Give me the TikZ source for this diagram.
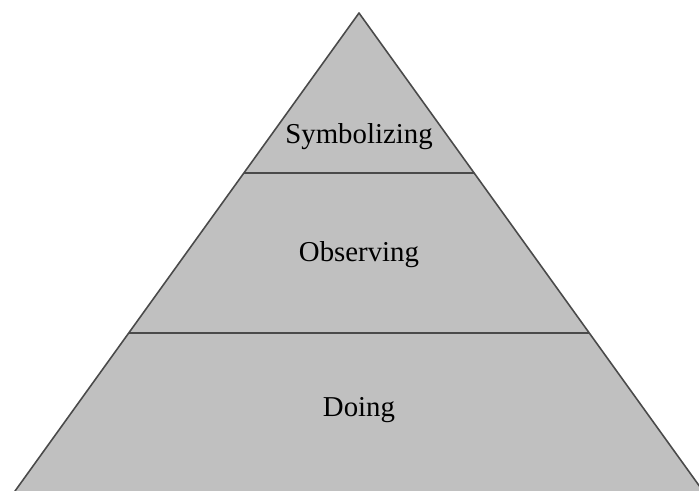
\documentclass[tikz,border=0pt]{standalone}
\usepackage{fontspec}
\setmainfont{Liberation Serif}
\usetikzlibrary{calc}
\definecolor{layergray}{HTML}{C0C0C0}
\definecolor{edgegray}{HTML}{4A4A4A}

\begin{document}
\begin{tikzpicture}[x=0.02cm, y=-0.02cm, font=\fontsize{16.4}{19}\selectfont]
		\tikzstyle{edge}=[draw=edgegray, line width=0.9pt, line join=round]
		\tikzstyle{level}=[align=center, inner sep=0pt]

		\useasboundingbox (0,0) rectangle (699,490);

		\coordinate (top) at (359,13);
		\coordinate (bl) at (13.6,493);
		\coordinate (br) at (704.4,493);

		% pyramid body
		\fill[layergray] (top) -- (bl) -- (br) -- cycle;
		\path[edge] (bl) -- (top) -- (br);

		% divisions between the levels
		\coordinate (s1l) at ($(top)!0.3333!(bl)$);
		\coordinate (s1r) at ($(top)!0.3333!(br)$);
		\coordinate (s2l) at ($(top)!0.6667!(bl)$);
		\coordinate (s2r) at ($(top)!0.6667!(br)$);
		\path[edge] (s1l) -- (s1r);
		\path[edge] (s2l) -- (s2r);

		\node[level] (sym) at (359,137) {Symbolizing};
		\node[level] (obs) at (359,255) {Observing};
		\node[level] (doing) at (359,410) {Doing};
	\end{tikzpicture}
\end{document}
